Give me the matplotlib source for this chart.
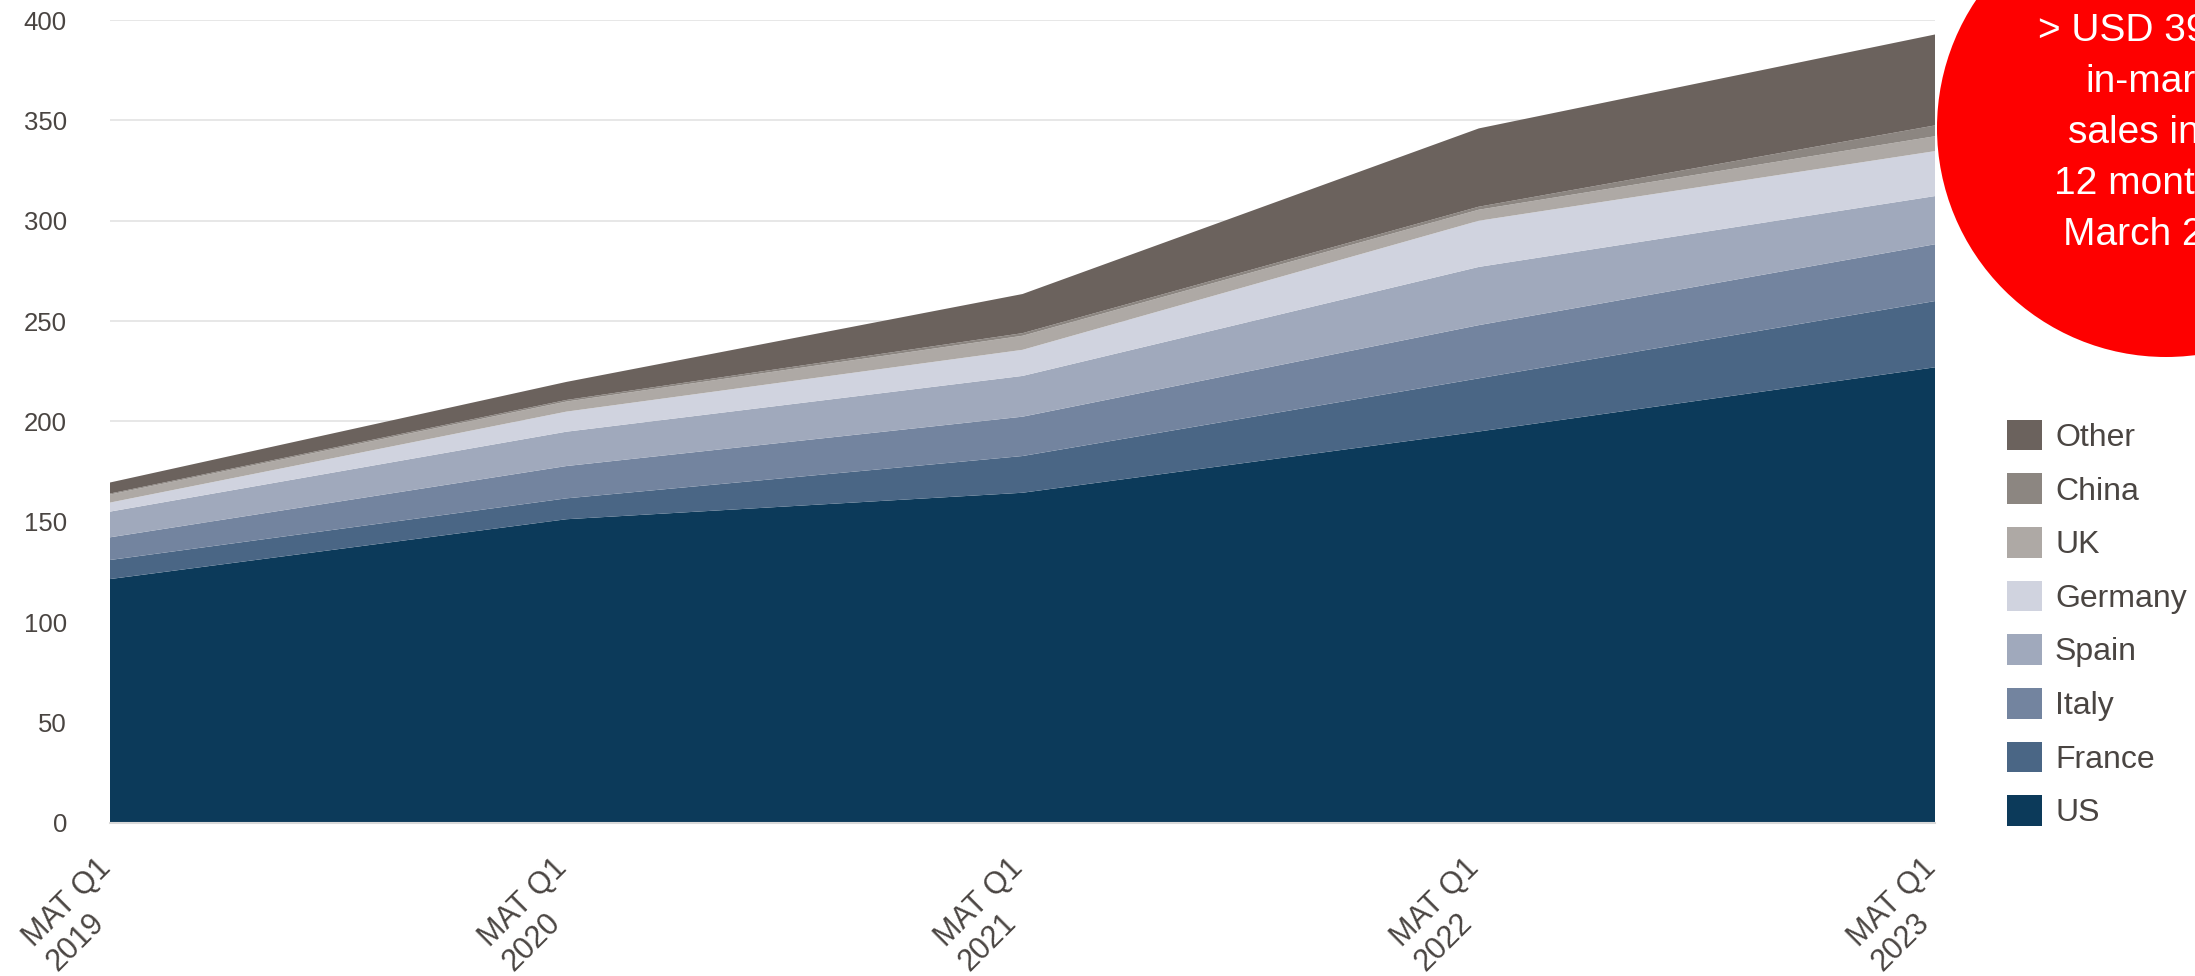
import numpy as np
import matplotlib
matplotlib.use("Agg")
import matplotlib.pyplot as plt
from matplotlib.patches import Circle, Patch
from matplotlib.transforms import ScaledTranslation

plt.rcParams['font.family'] = ['Liberation Sans', 'DejaVu Sans']

# data (USD m)
periods = ["MAT Q1\n2019", "MAT Q1\n2020", "MAT Q1\n2021", "MAT Q1\n2022", "MAT Q1\n2023"]
us = [121.5, 151.3, 164.5, 195.0, 227.0]
france = [9.5, 10.4, 18.3, 26.5, 33.0]
italy = [11.3, 16.1, 19.6, 26.5, 28.3]
spain = [12.8, 17.1, 20.3, 29.0, 24.0]
germany = [4.5, 10.0, 13.0, 23.0, 22.4]
uk = [4.0, 5.0, 7.0, 5.5, 7.4]
china = [0.5, 0.8, 1.3, 1.5, 5.4]
other = [5.5, 9.0, 19.5, 39.0, 45.3]

names = ["US", "France", "Italy", "Spain", "Germany", "UK", "China", "Other"]
colors = ["#0c3a5a", "#4a6685", "#73849f", "#a0a9bc", "#d0d3df", "#aea9a5", "#8c8681", "#6b625d"]
yticks = [0, 50, 100, 150, 200, 250, 300, 350, 400]

callout = ["> USD 390 mn", "in-market", "sales in the", "12 months to", "March 2023"]

textc = "#4a4542"

fig = plt.figure(figsize=(21.95, 9.76), dpi=100)
ax = fig.add_axes([0.0501, 0.1568, 0.8315, 0.8227])

x = np.arange(len(periods))
ax.stackplot(x, us, france, italy, spain, germany, uk, china, other,
             colors=colors, linewidth=0, zorder=2)

ax.set_xlim(0, len(periods) - 1)
ax.set_ylim(0, 400)
ax.set_yticks(yticks)
ax.set_yticklabels([str(v) for v in yticks], fontsize=18.5, color=textc)
ax.yaxis.grid(True, color="#e3e3e3", linewidth=1.2, zorder=0)
ax.set_axisbelow(True)
ax.tick_params(axis="y", length=0, pad=31)
ax.tick_params(axis="x", length=0, pad=38)
for s in ["top", "right", "left"]:
    ax.spines[s].set_visible(False)
ax.spines["bottom"].set_color("#d9d9d9")
ax.spines["bottom"].set_linewidth(1.5)
ax.spines["bottom"].set_zorder(3)

ax.set_xticks(x)
ax.set_xticklabels(periods, fontsize=22, color=textc, rotation=45,
                   ha="right", va="center", rotation_mode="anchor",
                   multialignment="left", linespacing=1.15)
# nudge the rotated labels a little to the right
shift = ScaledTranslation(8 / 100, 0, fig.dpi_scale_trans)
for lab in ax.get_xticklabels():
    lab.set_transform(lab.get_transform() + shift)

handles = [Patch(facecolor=c, edgecolor="none") for c in colors][::-1]
fig.legend(handles, names[::-1], loc="upper left", bbox_to_anchor=(0.9144, 0.570),
           frameon=False, fontsize=23, handlelength=1.1, handleheight=1.1,
           handletextpad=0.4, labelspacing=0.64, borderpad=0, borderaxespad=0,
           labelcolor=textc)

# red callout circle, in pixel coordinates
over = fig.add_axes([0, 0, 1, 1], zorder=5)
over.set_xlim(0, 2195)
over.set_ylim(976, 0)
over.axis("off")
over.add_patch(Circle((2166, 128), 229, color="#fe0000", lw=0))
for i, t in enumerate(callout):
    over.text(2166, 41 + i * 51, t, color="white", fontsize=28,
              ha="center", va="baseline")

fig.savefig("out.png", dpi=100)
